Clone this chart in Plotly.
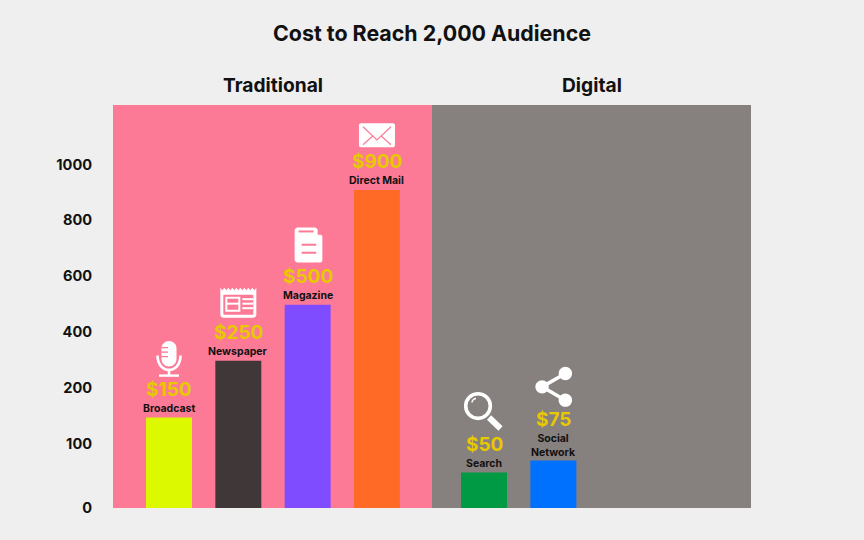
import plotly.graph_objects as go

TITLE = "Cost to Reach 2,000 Audience"
groups = ["Traditional", "Digital"]
trad_categories = ["Broadcast", "Newspaper", "Magazine", "Direct Mail"]
trad_heights = [90.5, 147.5, 203.5, 318.5]
trad_prices = ["$150", "$250", "$500", "$900"]
trad_colors = ["#DDF900", "#403838", "#7F4CFF", "#FF6B26"]
digi_categories = ["Search", "Social Network"]
digi_heights = [35.5, 47.5]
digi_prices = ["$50", "$75"]
digi_colors = ["#009A44", "#0070FF"]
# The source axis is not evenly spaced: tick labels sit at these axis positions
tick_positions = [0, 64, 120, 176, 232, 288, 343.5]
tick_labels = ["0", "100", "200", "400", "600", "800", "1000"]

FONT = "Inter"
PINK = "#FC7A96"
GRAY = "#86807E"
YELLOW = "#E8C800"
WHITE = "#FFFFFF"


def P(segs, oy):
    """Local icon coordinates (y down from icon centre) to a pixel-mode path (y up from bar top)."""
    out = []
    for s in segs:
        c = s[0]
        nums = s[1:]
        pts = []
        for i in range(0, len(nums), 2):
            pts.append(f"{nums[i]:.2f},{oy - nums[i + 1]:.2f}")
        out.append(c + " ".join(pts))
    return " ".join(out)


def circle(cx, cy, r):
    k = 0.5523 * r
    return [("M", cx + r, cy),
            ("C", cx + r, cy + k, cx + k, cy + r, cx, cy + r),
            ("C", cx - k, cy + r, cx - r, cy + k, cx - r, cy),
            ("C", cx - r, cy - k, cx - k, cy - r, cx, cy - r),
            ("C", cx + k, cy - r, cx + r, cy - k, cx + r, cy), ("Z",)]


def rrect(x0, y0, x1, y1, r):
    k = 0.45 * r
    return [("M", x0 + r, y0), ("L", x1 - r, y0), ("C", x1 - k, y0, x1, y0 + k, x1, y0 + r),
            ("L", x1, y1 - r), ("C", x1, y1 - k, x1 - k, y1, x1 - r, y1),
            ("L", x0 + r, y1), ("C", x0 + k, y1, x0, y1 - k, x0, y1 - r),
            ("L", x0, y0 + r), ("C", x0, y0 + k, x0 + k, y0, x0 + r, y0), ("Z",)]


def line(x0, y0, x1, y1):
    return [("M", x0, y0), ("L", x1, y1)]


def fill(segs, color=WHITE):
    return (segs, color, None, 0)


def stroke(segs, width, color=WHITE):
    return (segs, None, color, width)


serrated = [("M", -18, -15)]
for i in range(9):
    serrated += [("L", -18 + 4 * i + 2, -12.5), ("L", -18 + 4 * i + 4, -15)]
serrated += [("L", 18, 12), ("C", 18, 14, 16, 15, 15, 15), ("L", -15, 15),
             ("C", -16, 15, -18, 14, -18, 12), ("Z",)]

icons = {
    "Broadcast": (59, [
        fill(rrect(-7.5, -17.5, 7.5, 8, 7.5)),
        stroke(line(-7.5, -11, -1, -11), 1.3, PINK),
        stroke(line(-7.5, -6.5, -1, -6.5), 1.3, PINK),
        stroke(line(-7.5, -2, -1, -2), 1.3, PINK),
        stroke([("M", -11.5, -3), ("C", -11.5, 16, 11.5, 16, 11.5, -3)], 2.6),
        stroke(line(0, 11, 0, 17), 2.6),
        stroke(line(-10, 17, 10, 17), 2.4),
    ]),
    "Newspaper": (58, [
        fill(serrated),
        fill(rrect(-15, -8, 15, 12, 1), PINK),
        stroke([("M", -12, -5), ("L", 1, -5), ("L", 1, 8), ("L", -12, 8), ("Z",)], 2),
        stroke(line(-12, 1, 1, 1), 2),
        stroke(line(4, -3.5, 15, -3.5), 2),
        stroke(line(4, 1, 15, 1), 2),
        stroke(line(4, 5.5, 15, 5.5), 2),
    ]),
    "Magazine": (60, [
        fill(rrect(-13, -17.3, 10, 17.7, 3)),
        fill(rrect(7, -10, 14.7, 17.7, 2)),
        stroke(line(-9, -13.3, 6, -13.3), 2, PINK),
        stroke(line(-6, 0, 8.6, 0), 2, PINK),
        stroke(line(-6, 8, 8.6, 8), 2, PINK),
    ]),
    "Direct Mail": (54.7, [
        fill(rrect(-18, -12, 18, 12, 2)),
        stroke([("M", -14, -8.5), ("L", 0, 4.7), ("L", 14, -8.5)], 1.2, PINK),
        stroke(line(-14, 9.5, -4, 0.5), 1.2, PINK),
        stroke(line(14, 9.5, 4, 0.5), 1.2, PINK),
    ]),
    "Search": (60, [
        stroke(circle(-6, -6.5, 12.3), 3.6),
        stroke(line(5, 5, 16.5, 16), 6),
        stroke([("M", -12, -10), ("C", -12, -12, -10, -14, -8, -14)], 1.5),
    ]),
    "Social Network": (73.7, [
        stroke([("M", 12, -13.3), ("L", -11.3, 0), ("L", 12, 13.3)], 3.5),
        fill(circle(12, -13.3, 6.7)),
        fill(circle(-11.3, 0, 6.7)),
        fill(circle(12, 13.3, 6.7)),
    ]),
}

fig = go.Figure()
fig.add_bar(x=trad_categories, y=trad_heights, marker_color=trad_colors, marker_line_width=0,
            xaxis="x", yaxis="y", showlegend=False, hoverinfo="skip")
fig.add_bar(x=digi_categories, y=digi_heights, marker_color=digi_colors, marker_line_width=0,
            xaxis="x2", yaxis="y", showlegend=False, hoverinfo="skip")

shapes = [
    dict(type="rect", xref="x domain", yref="y domain", x0=0, x1=1, y0=0, y1=1,
         fillcolor=PINK, line_width=0, layer="below"),
    dict(type="rect", xref="x2 domain", yref="y domain", x0=0, x1=1, y0=0, y1=1,
         fillcolor=GRAY, line_width=0, layer="below"),
]
annotations = []
for xref, cats, hts, prices in [("x", trad_categories, trad_heights, trad_prices),
                                ("x2", digi_categories, digi_heights, digi_prices)]:
    for c, h, p in zip(cats, hts, prices):
        two_line = c == "Social Network"
        label = c.replace(" ", "<br>") if two_line else c
        label_shift = 15.5 if two_line else 9
        price_shift = 41 if two_line else 28
        annotations.append(dict(x=c, y=h, xref=xref, yref="y", text=label, showarrow=False,
                                yshift=label_shift, font=dict(family=FONT, size=10.5, color="#111111", weight=700),
                                yanchor="middle", xanchor="center"))
        annotations.append(dict(x=c, y=h, xref=xref, yref="y", text=p, showarrow=False,
                                yshift=price_shift, font=dict(family=FONT, size=19, color=YELLOW, weight=700),
                                yanchor="middle", xanchor="center"))
        oy, parts = icons[c]
        for segs, fc, lc, lw in parts:
            shapes.append(dict(type="path", xref=xref, yref="y", xsizemode="pixel", ysizemode="pixel",
                               xanchor=cats.index(c), yanchor=h, path=P(segs, oy),
                               fillcolor=fc if fc else "rgba(0,0,0,0)",
                               line=dict(color=lc if lc else "rgba(0,0,0,0)", width=lw)))

for xref, g in zip(["x domain", "x2 domain"], groups):
    annotations.append(dict(x=0.5, y=1, xref=xref, yref="y domain", text=g, showarrow=False,
                            yshift=20, font=dict(family=FONT, size=19.2, color="#111111", weight=700),
                            yanchor="middle", xanchor="center"))

fig.update_layout(
    width=864, height=540, margin=dict(l=113, r=113, t=105, b=31.5),
    paper_bgcolor="#EFEFEF", plot_bgcolor="#EFEFEF",
    title=dict(text=TITLE, x=0.5, xref="paper", xanchor="center", y=1 - 34 / 540, yanchor="middle",
               font=dict(family=FONT, size=21.4, color="#111111", weight=700)),
    bargap=0.337,
    shapes=shapes, annotations=annotations,
    xaxis=dict(domain=[0, 0.5], type="category", categoryorder="array", categoryarray=trad_categories,
               range=[-0.808, 3.794], showticklabels=False, showgrid=False, zeroline=False, ticks="", anchor="y"),
    xaxis2=dict(domain=[0.5, 1], type="category", categoryorder="array", categoryarray=digi_categories,
                range=[-0.75, 3.85], showticklabels=False, showgrid=False, zeroline=False, ticks="", anchor="y"),
    yaxis=dict(range=[0, 403.5], tickmode="array", tickvals=tick_positions, ticktext=tick_labels,
               showgrid=False, zeroline=False, ticks="outside", ticklen=17, tickcolor="rgba(0,0,0,0)",
               tickfont=dict(family=FONT, size=14.6, color="#111111", weight=700), anchor="x"),
)
fig.write_html("out.html", post_script="document.body.style.margin='0'", config={"displayModeBar": False})
